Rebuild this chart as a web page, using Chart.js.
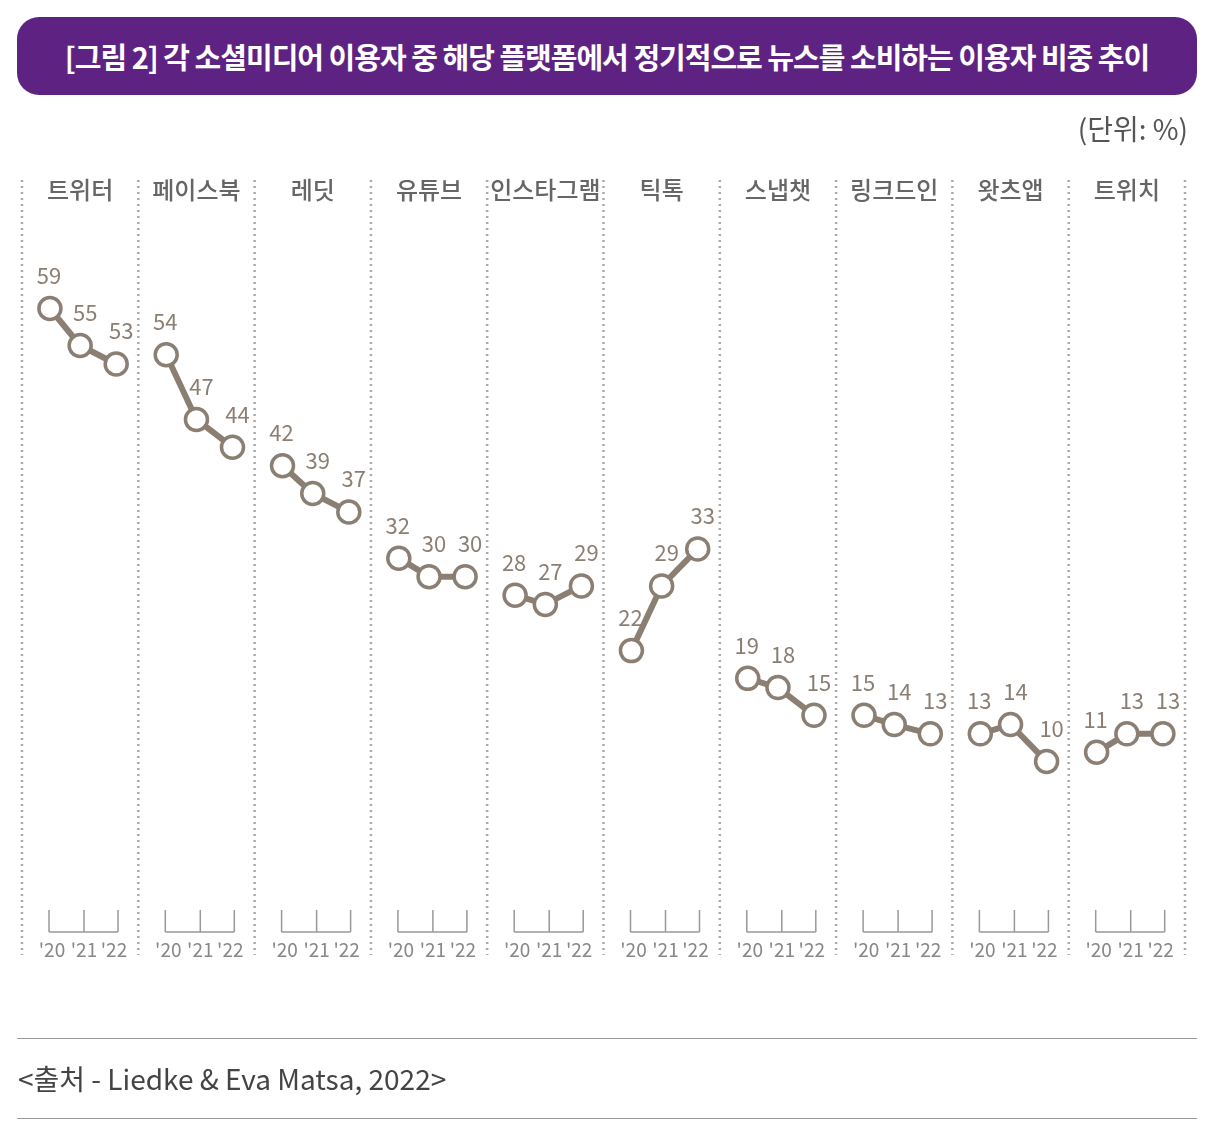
<!DOCTYPE html>
<html><head><meta charset="utf-8">
<script src="https://cdn.jsdelivr.net/npm/chart.js@4"></script>
<style>
body{margin:0;background:#fff;font-family:"Noto Sans CJK KR","Noto Sans",sans-serif;}
#wrap{position:relative;width:1224px;height:1148px;}
#title{position:absolute;left:17px;top:17px;width:1180px;height:78px;background:#5e2382;border-radius:22px;color:#fff;font-size:29px;font-weight:bold;display:flex;align-items:center;justify-content:center;letter-spacing:-1px;}
#unit{position:absolute;right:36px;top:108px;font-size:28px;color:#555;}
#src{position:absolute;left:18px;top:1058px;font-size:28px;color:#444;}
.hr{position:absolute;left:17px;width:1180px;height:1px;background:#999;}
canvas{position:absolute;left:0;top:0;}
</style></head><body>
<div id="wrap">
<canvas id="c" width="1224" height="1148"></canvas>
<div id="title">[그림 2] 각 소셜미디어 이용자 중 해당 플랫폼에서 정기적으로 뉴스를 소비하는 이용자 비중 추이</div>
<div id="unit">(단위: %)</div>
<div class="hr" style="top:1038px"></div>
<div class="hr" style="top:1118px"></div>
<div id="src">&lt;출처 - Liedke &amp; Eva Matsa, 2022&gt;</div>
</div>
<script>
const categories=["트위터","페이스북","레딧","유튜브","인스타그램","틱톡","스냅챗","링크드인","왓츠앱","트위치"];
const years=["'20","'21","'22"];
const values=[[59,55,53],[54,47,44],[42,39,37],[32,30,30],[28,27,29],[22,29,33],[19,18,15],[15,14,13],[13,14,10],[11,13,13]];
const offs=[0.24,0.5,0.81];
const col="#8b7f74";
const datasets=values.map((v,i)=>({data:v.map((y,j)=>({x:i+offs[j],y})),borderColor:col,borderWidth:6,pointRadius:11,pointHoverRadius:11,pointBackgroundColor:"#fff",pointBorderColor:col,pointBorderWidth:3.5}));
const deco={id:"deco",afterDatasetsDraw(ch){
 const c=ch.ctx,xs=ch.scales.x,ys=ch.scales.y,a=ch.chartArea;
 c.save();
 // dotted separators
 c.strokeStyle="#aaa";c.lineWidth=2.5;c.setLineDash([2,4]);
 for(let i=0;i<=10;i++){const x=xs.getPixelForValue(i);c.beginPath();c.moveTo(x,180);c.lineTo(x,955);c.stroke();}
 c.setLineDash([]);
 c.textAlign="center";c.textBaseline="middle";
 const pw=xs.getPixelForValue(1)-xs.getPixelForValue(0);
 categories.forEach((n,i)=>{
  const l=xs.getPixelForValue(i);
  c.fillStyle="#666";c.font="500 24px 'Noto Sans CJK KR'";
  c.fillText(n,l+pw/2,190);
  // bracket
  c.strokeStyle="#999";c.lineWidth=1.5;
  const bx=[27,62,96].map(o=>l+o);
  c.beginPath();c.moveTo(bx[0],932);c.lineTo(bx[2],932);
  bx.forEach(x=>{c.moveTo(x,932);c.lineTo(x,910);});c.stroke();
  c.fillStyle="#888";c.font="19px 'Noto Sans CJK KR'";
  [30,62,92].forEach((o,j)=>c.fillText(years[j],l+o,950));
  // value labels
  c.fillStyle=col;c.font="22px 'Noto Sans CJK KR'";
  values[i].forEach((v,j)=>{
   const px=xs.getPixelForValue(i+offs[j]),py=ys.getPixelForValue(v);
   c.fillText(String(v),px+(j==0?-1:5),py-33);
  });
 });
 c.restore();
}};
new Chart(document.getElementById("c"),{type:"line",data:{datasets},
options:{responsive:false,animation:false,events:[],
layout:{padding:{left:22,right:39,top:180,bottom:193}},
plugins:{legend:{display:false},tooltip:{enabled:false}},
scales:{x:{type:"linear",min:0,max:10,display:false},y:{min:-10.92,max:72.9,display:false}}},
plugins:[deco]});
</script>
</body></html>
